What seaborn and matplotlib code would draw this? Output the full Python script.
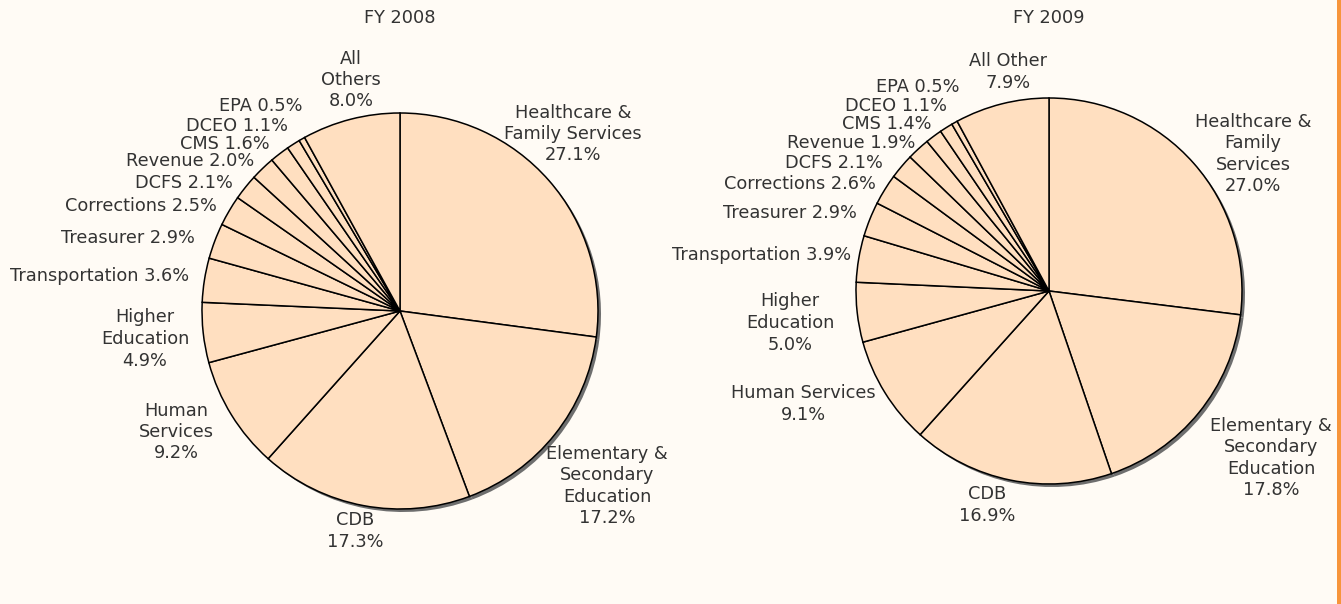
import matplotlib
matplotlib.use("Agg")
import matplotlib.pyplot as plt
from matplotlib.patches import Rectangle
import seaborn as sns

# ---------------- data ----------------
labels_2008 = ["Healthcare &\nFamily Services", "Elementary &\nSecondary\nEducation", "CDB",
               "Human\nServices", "Higher\nEducation", "Transportation", "Treasurer",
               "Corrections", "DCFS", "Revenue", "CMS", "DCEO", "EPA", "All\nOthers"]
values_2008 = [27.1, 17.2, 17.3, 9.2, 4.9, 3.6, 2.9, 2.5, 2.1, 2.0, 1.6, 1.1, 0.5, 8.0]

labels_2009 = ["Healthcare &\nFamily\nServices", "Elementary &\nSecondary\nEducation", "CDB",
               "Human Services", "Higher\nEducation", "Transportation", "Treasurer",
               "Corrections", "DCFS", "Revenue", "CMS", "DCEO", "EPA", "All Other"]
values_2009 = [27.0, 17.8, 16.9, 9.1, 5.0, 3.9, 2.9, 2.6, 2.1, 1.9, 1.4, 1.1, 0.5, 7.9]

titles = ["FY 2008", "FY 2009"]

# ---------------- layout (pixels, from top-left) ----------------
W, H = 1341, 604
pie_centers = [(400, 311), (1049, 291)]
pie_radii = [198, 193]
title_pos = [(400, 18), (1049, 18)]
label_pos_2008 = [(573, 134), (607, 486), (355, 531), (176, 432), (145, 339), (100, 276),
                  (128, 238), (141, 206), (184, 183), (190, 161), (225, 144), (237, 126),
                  (261, 106), (351, 80)]
label_pos_2009 = [(1253, 154), (1271, 458), (987, 505), (803, 404), (790, 323), (762, 255),
                  (790, 213), (800, 184), (834, 163), (851, 143), (887, 124), (896, 106),
                  (918, 87), (1008, 72)]

BG = "#FFFBF5"
PIE = "#FFDFC0"
TXT = "#333333"
SHADOW = "#6E6E6E"
FS = 12.8

sns.set_theme(style="white")
plt.rcParams["font.family"] = ["DejaVu Sans"]

fig = plt.figure(figsize=(W / 100, H / 100), dpi=100, facecolor=BG)
ax = fig.add_axes([0, 0, 1, 1])
ax.set_facecolor(BG)


def label_text(name, val):
    if name.count("\n") == 0 and name not in ("CDB", "Human Services", "All Other"):
        return f"{name} {val:.1f}%"
    return f"{name}\n{val:.1f}%"


for labels, values, (cx, cy), r, lpos, title, tpos in zip(
        [labels_2008, labels_2009], [values_2008, values_2009], pie_centers, pie_radii,
        [label_pos_2008, label_pos_2009], titles, title_pos):
    yc = H - cy
    # shadow pie
    ax.pie(values, colors=[SHADOW] * len(values), startangle=90, counterclock=False,
           center=(cx + 3, yc - 3), radius=r, wedgeprops=dict(linewidth=0),
           frame=False)
    # main pie
    ax.pie(values, colors=[PIE] * len(values), startangle=90, counterclock=False,
           center=(cx, yc), radius=r,
           wedgeprops=dict(edgecolor="black", linewidth=1.1), frame=False)
    for name, val, (lx, ly) in zip(labels, values, lpos):
        ax.text(lx, H - ly, label_text(name, val), ha="center", va="center",
                fontsize=FS, color=TXT, linespacing=1.25)
    ax.text(tpos[0], H - tpos[1], title, ha="center", va="center", fontsize=FS, color=TXT)

ax.set_xlim(0, W)
ax.set_ylim(0, H)
ax.set_aspect("equal")
ax.axis("off")

fig.patches.append(Rectangle((1337 / W, 0), 4 / W, 1, transform=fig.transFigure,
                             facecolor="#F7953B", edgecolor="none"))

fig.savefig("out.png", dpi=100, facecolor=BG)
